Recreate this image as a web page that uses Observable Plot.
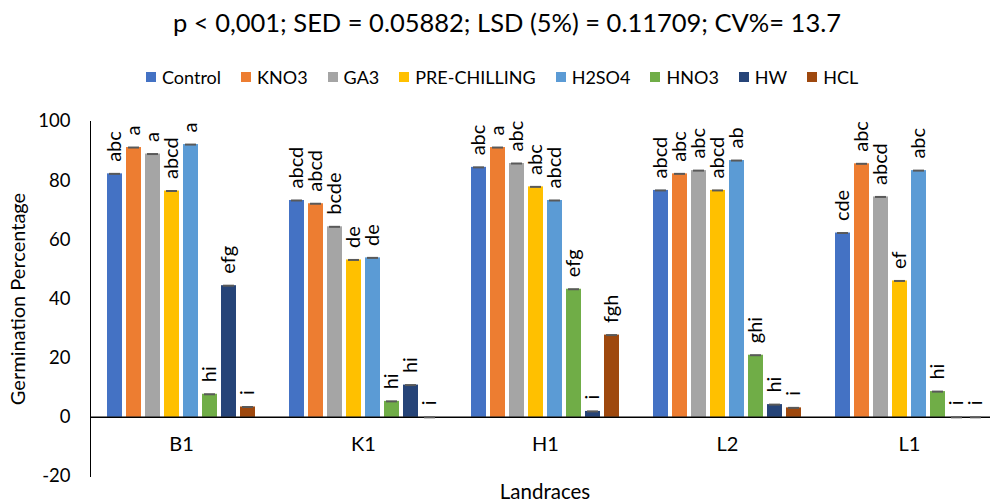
<!DOCTYPE html>
<html>
<head>
<meta charset="utf-8">
<script src="https://cdn.jsdelivr.net/npm/d3@7"></script>
<script src="https://cdn.jsdelivr.net/npm/@observablehq/plot@0.6"></script>
<style>
  body { margin: 0; width: 990px; height: 502px; overflow: hidden; position: relative; background: #fff; color: #000; font-family: Lato, sans-serif; }
  #title { position: absolute; top: 0; left: 12px; width: 990px; text-align: center; font-size: 25.5px; line-height: 44px; white-space: nowrap; }
  #legend { position: absolute; top: 64px; left: 146px; display: flex; align-items: center; font-size: 18px; line-height: 26px; white-space: nowrap; }
  #legend .item { display: flex; align-items: center; margin-right: 20px; }
  #legend .sw { width: 10px; height: 10px; margin-right: 6px; }
  #chart { position: absolute; top: 90px; left: 0; }
  #xlabel { position: absolute; top: 478px; left: 445px; width: 200px; text-align: center; font-size: 20.5px; line-height: 26px; }
</style>
</head>
<body>
<div id="title"></div>
<div id="legend"></div>
<div id="chart"></div>
<div id="xlabel"></div>
<script>
const titleText = "p < 0,001; SED = 0.05882; LSD (5%) = 0.11709; CV%= 13.7";
const xTitle = "Landraces";
const yTitle = "Germination Percentage";

const landraces = ["B1", "K1", "H1", "L2", "L1"];
const treatments = ["Control", "KNO3", "GA3", "PRE-CHILLING", "H2SO4", "HNO3", "HW", "HCL"];
const colors = ["#4472C4", "#ED7D31", "#A5A5A5", "#FFC000", "#5B9BD5", "#70AD47", "#264478", "#9E480E"];
const yTicks = [-20, 0, 20, 40, 60, 80, 100];

// Values per landrace, in treatment order
const b1Values = [82.3, 91.2, 89.0, 76.5, 92.2, 7.8, 44.5, 3.5];
const k1Values = [73.3, 72.2, 64.4, 53.2, 53.9, 5.4, 10.9, 0];
const h1Values = [84.5, 91.2, 85.8, 77.9, 73.3, 43.3, 2.0, 27.8];
const l2Values = [76.7, 82.3, 83.4, 76.7, 86.8, 21.0, 4.3, 3.2];
const l1Values = [62.3, 85.7, 74.5, 46.1, 83.4, 8.7, 0, 0];

const b1Letters = ["abc", "a", "a", "abcd", "a", "hi", "efg", "i"];
const k1Letters = ["abcd", "abcd", "bcde", "de", "de", "hi", "hi", "i"];
const h1Letters = ["abc", "a", "abc", "abc", "abcd", "efg", "i", "fgh"];
const l2Letters = ["abcd", "abc", "abc", "abcd", "ab", "ghi", "hi", "i"];
const l1Letters = ["cde", "abc", "abcd", "ef", "abc", "hi", "i", "i"];

const valueSets = [b1Values, k1Values, h1Values, l2Values, l1Values];
const letterSets = [b1Letters, k1Letters, h1Letters, l2Letters, l1Letters];

const rows = [];
landraces.forEach((l, i) => {
  treatments.forEach((t, j) => {
    rows.push({landrace: l, treatment: t, value: valueSets[i][j], letter: letterSets[i][j]});
  });
});

document.getElementById("title").textContent = titleText;
document.getElementById("xlabel").textContent = xTitle;
const legend = document.getElementById("legend");
treatments.forEach((t, j) => {
  const item = document.createElement("div");
  item.className = "item";
  const sw = document.createElement("div");
  sw.className = "sw";
  sw.style.background = colors[j];
  const lab = document.createElement("span");
  lab.textContent = t;
  item.appendChild(sw);
  item.appendChild(lab);
  legend.appendChild(item);
});

const chart = Plot.plot({
  width: 1000,
  height: 412,
  marginTop: 31,
  marginBottom: 26,
  marginLeft: 90,
  marginRight: 0,
  style: {fontFamily: "Lato, sans-serif", fontSize: "18.5px", color: "#000", background: "transparent", maxWidth: "none"},
  fx: {domain: landraces, padding: 0, axis: null},
  x: {domain: treatments, paddingInner: 0.22, paddingOuter: 0.86, axis: null},
  y: {domain: [-20, 100], ticks: yTicks, tickSize: 0, tickPadding: 20, line: true, label: null, tickFormat: d => String(d)},
  color: {domain: treatments, range: colors},
  marks: [
    Plot.barY(rows, {fx: "landrace", x: "treatment", y: "value", fill: "treatment"}),
    Plot.ruleY([0], {stroke: "#000", strokeWidth: 1.5}),
    Plot.tickY(rows, {fx: "landrace", x: "treatment", y: "value", stroke: "#595959", strokeWidth: 2, inset: 2}),
    Plot.text(rows, {fx: "landrace", x: "treatment", y: "value", text: "letter", rotate: -90, textAnchor: "start", lineAnchor: "middle", dy: -12, fontSize: 20, fill: "#000"}),
    Plot.text(landraces, {fx: d => d, text: d => d, frameAnchor: "bottom", textAnchor: "middle", lineAnchor: "middle", dy: -32, fontSize: 20, fill: "#000"}),
    Plot.text([yTitle], {fx: () => landraces[0], text: d => d, frameAnchor: "left", textAnchor: "middle", lineAnchor: "middle", rotate: -90, dx: -72, fontSize: 20, fill: "#000"})
  ]
});
document.getElementById("chart").appendChild(chart);
</script>
</body>
</html>
